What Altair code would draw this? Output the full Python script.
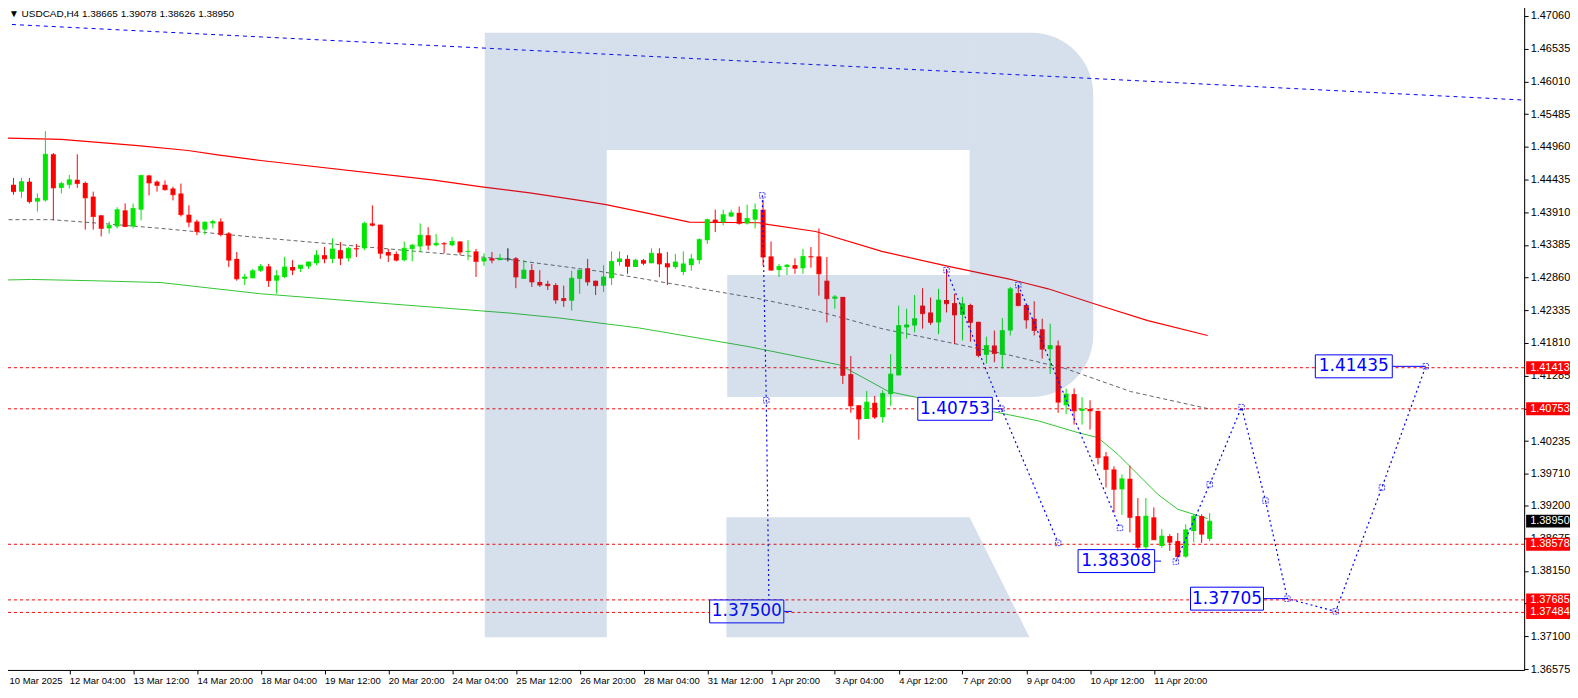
import altair as alt
import pandas as pd

# ---------------- data ----------------
title_text = "▼ USDCAD,H4  1.38665 1.39078 1.38626 1.38950"

x_tick_bars = [0, 8, 16, 24, 32, 40, 48, 56, 64, 72, 80, 88, 96, 104, 112, 120, 128, 136, 144]
x_tick_labels = ["10 Mar 2025", "12 Mar 04:00", "13 Mar 12:00", "14 Mar 20:00", "18 Mar 04:00",
                 "19 Mar 12:00", "20 Mar 20:00", "24 Mar 04:00", "25 Mar 12:00", "26 Mar 20:00",
                 "28 Mar 04:00", "31 Mar 12:00", "1 Apr 20:00", "3 Apr 04:00", "4 Apr 12:00",
                 "7 Apr 20:00", "9 Apr 04:00", "10 Apr 12:00", "11 Apr 20:00"]

y_tick_values = [1.47060, 1.46535, 1.46010, 1.45485, 1.44960, 1.44435, 1.43910, 1.43385, 1.42860,
                 1.42335, 1.41810, 1.41285, 1.40760, 1.40235, 1.39710, 1.39200, 1.38675, 1.38150,
                 1.37625, 1.37100, 1.36575]
y_hidden_labels = ["1.40760", "1.37625"]   # covered by the level badges in the original

opens = [1.4446, 1.4435, 1.4424, 1.4440, 1.4408, 1.4410, 1.4484, 1.4430, 1.4435, 1.4443,
         1.4438, 1.4416, 1.4386, 1.4365, 1.4368, 1.4394, 1.4368, 1.4395, 1.4450, 1.4440,
         1.4435, 1.4429, 1.4421, 1.4387, 1.4376, 1.4363, 1.4373, 1.4376, 1.4357, 1.4316,
         1.4284, 1.4285, 1.4297, 1.4304, 1.4281, 1.4287, 1.4303, 1.4300, 1.4304, 1.4309,
         1.4322, 1.4316, 1.4330, 1.4317, 1.4333, 1.4333, 1.4373, 1.4371, 1.4327, 1.4324,
         1.4314, 1.4332, 1.4336, 1.4354, 1.4338, 1.4341, 1.4338, 1.4344, 1.4327, 1.4328,
         1.4312, 1.4317, 1.4314, 1.4316, 1.4317, 1.4284, 1.4298, 1.4279, 1.4276, 1.4274,
         1.4253, 1.4249, 1.4284, 1.4301, 1.4281, 1.4273, 1.4285, 1.4311, 1.4316, 1.4303,
         1.4314, 1.4309, 1.4325, 1.4309, 1.4303, 1.4295, 1.4306, 1.4314, 1.4346, 1.4379,
         1.4375, 1.4384, 1.4390, 1.4373, 1.4379, 1.4395, 1.4320, 1.4298, 1.4303, 1.4306,
         1.4301, 1.4320, 1.4320, 1.4281, 1.4252, 1.4255, 1.4131, 1.4081, 1.4059, 1.4085,
         1.4062, 1.4099, 1.4129, 1.4206, 1.4209, 1.4241, 1.4230, 1.4214, 1.4250, 1.4245,
         1.4226, 1.4242, 1.4215, 1.4162, 1.4177, 1.4162, 1.4201, 1.4261, 1.4242, 1.4220,
         1.4203, 1.4171, 1.4177, 1.4081, 1.4099, 1.4072, 1.4075, 1.4072, 1.3999, 1.3978,
         1.3946, 1.3963, 1.3903, 1.3853, 1.3901, 1.3855, 1.3871, 1.3863, 1.3838, 1.3879,
         1.3903, 1.38665]
highs = [1.4472, 1.4446, 1.4446, 1.4446, 1.4421, 1.4521, 1.4486, 1.4440, 1.4451, 1.4484,
         1.4440, 1.4424, 1.4386, 1.4376, 1.4399, 1.4405, 1.4405, 1.4451, 1.4451, 1.4442,
         1.4442, 1.4432, 1.4437, 1.4402, 1.4379, 1.4376, 1.4379, 1.4381, 1.4359, 1.4327,
         1.4292, 1.4300, 1.4308, 1.4308, 1.4298, 1.4319, 1.4314, 1.4306, 1.4312, 1.4330,
         1.4335, 1.4349, 1.4343, 1.4335, 1.4340, 1.4376, 1.4402, 1.4371, 1.4332, 1.4328,
         1.4344, 1.4340, 1.4373, 1.4367, 1.4356, 1.4343, 1.4351, 1.4344, 1.4346, 1.4332,
         1.4325, 1.4327, 1.4324, 1.4333, 1.4319, 1.4314, 1.4308, 1.4298, 1.4281, 1.4277,
         1.4273, 1.4297, 1.4298, 1.4316, 1.4281, 1.4306, 1.4328, 1.4328, 1.4322, 1.4316,
         1.4316, 1.4333, 1.4333, 1.4327, 1.4324, 1.4328, 1.4324, 1.4349, 1.4381, 1.4395,
         1.4395, 1.4395, 1.4400, 1.4403, 1.4405, 1.4411, 1.4344, 1.4308, 1.4308, 1.4317,
         1.4332, 1.4335, 1.4365, 1.4319, 1.4258, 1.4255, 1.4160, 1.4081, 1.4104, 1.4096,
         1.4105, 1.4163, 1.4241, 1.4236, 1.4258, 1.4269, 1.4254, 1.4268, 1.4300, 1.4260,
         1.4255, 1.4244, 1.4215, 1.4191, 1.4201, 1.4221, 1.4271, 1.4274, 1.4242, 1.4248,
         1.4220, 1.4212, 1.4185, 1.4108, 1.4108, 1.4094, 1.4089, 1.4072, 1.4006, 1.3983,
         1.3970, 1.3984, 1.3932, 1.3932, 1.3917, 1.3882, 1.3874, 1.3876, 1.3890, 1.3906,
         1.3906, 1.39078]
lows = [1.4430, 1.4419, 1.4414, 1.4405, 1.4392, 1.4408, 1.4378, 1.4421, 1.4429, 1.4430,
        1.4363, 1.4363, 1.4352, 1.4357, 1.4365, 1.4367, 1.4365, 1.4378, 1.4418, 1.4424,
        1.4426, 1.4410, 1.4384, 1.4367, 1.4354, 1.4355, 1.4365, 1.4352, 1.4303, 1.4281,
        1.4274, 1.4285, 1.4295, 1.4271, 1.4260, 1.4285, 1.4290, 1.4295, 1.4300, 1.4306,
        1.4309, 1.4309, 1.4306, 1.4312, 1.4319, 1.4330, 1.4368, 1.4316, 1.4311, 1.4312,
        1.4312, 1.4312, 1.4327, 1.4330, 1.4336, 1.4325, 1.4336, 1.4322, 1.4314, 1.4287,
        1.4305, 1.4309, 1.4314, 1.4312, 1.4269, 1.4284, 1.4271, 1.4271, 1.4266, 1.4244,
        1.4239, 1.4233, 1.4260, 1.4273, 1.4258, 1.4263, 1.4274, 1.4305, 1.4292, 1.4303,
        1.4306, 1.4309, 1.4287, 1.4274, 1.4300, 1.4290, 1.4297, 1.4308, 1.4340, 1.4359,
        1.4370, 1.4383, 1.4371, 1.4371, 1.4365, 1.4305, 1.4297, 1.4287, 1.4290, 1.4292,
        1.4292, 1.4302, 1.4257, 1.4214, 1.4236, 1.4115, 1.4069, 1.4026, 1.4059, 1.4059,
        1.4053, 1.4080, 1.4129, 1.4188, 1.4198, 1.4204, 1.4210, 1.4195, 1.4230, 1.4179,
        1.4185, 1.4183, 1.4158, 1.4148, 1.4150, 1.4140, 1.4193, 1.4240, 1.4204, 1.4193,
        1.4156, 1.4131, 1.4069, 1.4067, 1.4050, 1.4050, 1.4042, 1.3986, 1.3949, 1.3909,
        1.3905, 1.3877, 1.3831, 1.3838, 1.3865, 1.3852, 1.3847, 1.3836, 1.3836, 1.3861,
        1.3860, 1.38626]
closes = [1.4434, 1.4424, 1.4440, 1.4408, 1.4413, 1.4484, 1.4430, 1.4437, 1.4443, 1.4437,
          1.4414, 1.4384, 1.4365, 1.4370, 1.4395, 1.4368, 1.4397, 1.4450, 1.4438, 1.4434,
          1.4427, 1.4419, 1.4387, 1.4375, 1.4360, 1.4375, 1.4376, 1.4355, 1.4314, 1.4284,
          1.4287, 1.4297, 1.4304, 1.4281, 1.4289, 1.4303, 1.4298, 1.4306, 1.4311, 1.4322,
          1.4316, 1.4332, 1.4317, 1.4333, 1.4332, 1.4373, 1.4370, 1.4325, 1.4322, 1.4314,
          1.4333, 1.4338, 1.4354, 1.4338, 1.4341, 1.4340, 1.4344, 1.4327, 1.4328, 1.4312,
          1.4317, 1.4314, 1.4317, 1.4316, 1.4287, 1.4298, 1.4279, 1.4274, 1.4273, 1.4250,
          1.4249, 1.4285, 1.4298, 1.4279, 1.4273, 1.4287, 1.4312, 1.4316, 1.4304, 1.4314,
          1.4309, 1.4325, 1.4308, 1.4303, 1.4311, 1.4308, 1.4316, 1.4347, 1.4379, 1.4375,
          1.4387, 1.4390, 1.4373, 1.4381, 1.4395, 1.4319, 1.4298, 1.4304, 1.4306, 1.4301,
          1.4320, 1.4319, 1.4292, 1.4252, 1.4255, 1.4129, 1.4080, 1.4059, 1.4086, 1.4062,
          1.4100, 1.4131, 1.4209, 1.4210, 1.4220, 1.4228, 1.4214, 1.4250, 1.4244, 1.4226,
          1.4244, 1.4214, 1.4161, 1.4177, 1.4164, 1.4201, 1.4268, 1.4241, 1.4218, 1.4201,
          1.4171, 1.4177, 1.4086, 1.4099, 1.4072, 1.4075, 1.4072, 1.3997, 1.3978, 1.3946,
          1.3963, 1.3901, 1.3853, 1.3903, 1.3865, 1.3871, 1.3861, 1.3838, 1.3881, 1.3903,
          1.3874, 1.38950]
bar_index = list(range(len(opens)))

red_ma_bar = [-0.5, 7, 11.6, 16.6, 22.9, 26.6, 32, 53.5, 59.5, 65.75, 72, 75.3, 80.3, 85.75,
              94.5, 95.75, 101.6, 109.9, 118.25, 125.75, 130.75, 137, 143.25, 150.75]
red_ma_price = [1.4510, 1.4508, 1.4503, 1.4498, 1.4490, 1.4483, 1.4474, 1.4443, 1.4432, 1.4422,
                1.4410, 1.4403, 1.4390, 1.4375, 1.4374, 1.4371, 1.4360, 1.4328, 1.4304, 1.4284,
                1.4268, 1.4242, 1.4217, 1.4193]

green_ma_bar = [-0.5, 3.25, 10.75, 19.5, 32, 47, 63.25, 69.5, 79.5, 93.25, 104.5, 105.75, 110.75,
                114.5, 125.75, 129.5, 134.5, 137, 139.5, 142, 144.5, 147, 149.5, 150.75]
green_ma_price = [1.4282, 1.4283, 1.4281, 1.4278, 1.4260, 1.4245, 1.4229, 1.4221, 1.4205, 1.4175,
                  1.4146, 1.4138, 1.4103, 1.4093, 1.4066, 1.4056, 1.4037, 1.4029, 1.4002, 1.3970,
                  1.3938, 1.3914, 1.3904, 1.3899]

gray_ma_bar = [-0.5, 5.75, 12, 19.5, 32, 63.25, 74.5, 94.5, 101.6, 109.9, 118.25, 125.75, 132.9,
               141.1, 151]
gray_ma_price = [1.4379, 1.4379, 1.4373, 1.4365, 1.4350, 1.4315, 1.4296, 1.4252, 1.4233, 1.4204,
                 1.4182, 1.4162, 1.4140, 1.4103, 1.4075]

trend_bar = [-0.1875, 190.4375]
trend_price = [1.4693, 1.4571]

level_prices = [1.41413, 1.40753, 1.38578, 1.37685, 1.37484]

badge_prices = [1.41413, 1.40753, 1.38950, 1.38578, 1.37685, 1.37484]
badge_texts = ["1.41413", "1.40753", "1.38950", "1.38578", "1.37685", "1.37484"]
badge_fill = ["#ff0000", "#ff0000", "#000000", "#ff0000", "#ff0000", "#ff0000"]

# forecast paths (bar index, price)
path_ids = ["A"] * 3 + ["B"] * 3 + ["C"] * 2 + ["D"] * 8
path_bar = [94.9, 95.4, 95.75,
            118, 124.9, 132,
            127, 139.75,
            146.75, 151, 155, 158, 160.75, 166.8, 172.6, 178.1]
path_price = [1.4418, 1.4089, 1.3750,
              1.4298, 1.40753, 1.3860,
              1.4274, 1.3884,
              1.3830, 1.3954, 1.4078, 1.3928, 1.37705, 1.3750, 1.3949, 1.41435]

label_texts = ["1.37500", "1.40753", "1.38308", "1.37705", "1.41435"]
label_price = [1.37500, 1.40753, 1.38308, 1.37705, 1.41435]
label_left = [88.3, 114.4, 134.5, 148.6, 164.25]
label_right = [97.6, 123.75, 144.1, 157.75, 173.9]
label_tail = [98.6, 124.9, 144.9, 160.75, 178.1]

# watermark "R" pieces (bar index / price)
wm_x0 = [60.1, 75.4, 90.5]
wm_x1 = [75.4, 120.9, 120.9]
wm_p0 = [1.46789, 1.46789, 1.42901]
wm_p1 = [1.37085, 1.44909, 1.40941]
wm_round_x = [120.9, 136.4]
wm_round_p = [1.46789, 1.40941]
wm_leg_bar = [90.4, 120.9, 128.4]
wm_leg_top = [1.39013, 1.39013, 1.37085]
wm_leg_bottom = [1.37085, 1.37085, 1.37085]

# ---------------- styling ----------------
W, H = 1525, 668
UP, DOWN, BLUE = "#00e600", "#ff0000", "#0000ff"
WM = "#1b5395"
AXIS_FONT = "Liberation Sans"

xscale = alt.Scale(domain=[-0.1875, 190.4375], nice=False, zero=False, padding=0)
yscale = alt.Scale(domain=[1.36560, 1.47251], nice=False, zero=False, padding=0)

# first date label is drawn separately so that it is not cut at the left edge
label_expr = ("datum.value < 1 ? '' : [" + ",".join("'%s'" % s for s in x_tick_labels)
              + "][round(datum.value / 8)]")
hidden = "[" + ",".join("'%s'" % s for s in y_hidden_labels) + "]"
y_label_expr = ("indexof(%s, format(datum.value, '.5f')) >= 0 ? '' : format(datum.value, '.5f')" % hidden)

x_axis = alt.Axis(values=x_tick_bars, labelExpr=label_expr, grid=False, tickSize=4, orient="bottom",
                  labelAlign="left", labelPadding=2, labelFont=AXIS_FONT,
                  labelFontSize=9.5, labelColor="black", domainColor="black", tickColor="black",
                  labelOverlap=False, labelFlush=False, title=None)
y_axis = alt.Axis(values=y_tick_values, labelExpr=y_label_expr, orient="right", grid=False, tickSize=4,
                  labelPadding=2, labelFont=AXIS_FONT, labelFontSize=11, labelColor="black",
                  domainColor="black", tickColor="black", labelOverlap=False, labelFlush=False,
                  title=None)


def X(f):
    return alt.X(f, type="quantitative", scale=xscale, axis=x_axis)


def Y(f):
    return alt.Y(f, type="quantitative", scale=yscale, axis=y_axis)


cdf = pd.DataFrame({"i": bar_index, "open": opens, "high": highs, "low": lows, "close": closes})
base = alt.Chart(cdf).transform_calculate(
    dir="datum.close > datum.open ? 'up' : (datum.close < datum.open ? 'down' : 'doji')")
ccolor = alt.Color("dir:N", scale=alt.Scale(domain=["up", "down", "doji"], range=[UP, DOWN, "#000000"]),
                   legend=None)

wicks = base.mark_rule(strokeWidth=1).encode(x=X("i"), y=Y("low"), y2="high", color=ccolor)
bodies = base.mark_bar(size=5).encode(x=X("i"), y=Y("open"), y2="close", color=ccolor)
edges = base.mark_tick(orient="horizontal", size=5, thickness=1).encode(x=X("i"), y=Y("close"), color=ccolor)


def line_layer(bars, prices, color, dash=None, width=1.0):
    df = pd.DataFrame({"i": bars, "p": prices})
    kw = dict(color=color, strokeWidth=width, clip=True)
    if dash:
        kw["strokeDash"] = dash
    return alt.Chart(df).mark_line(**kw).encode(x=X("i"), y=Y("p"))


red_ma = line_layer(red_ma_bar, red_ma_price, "#ff0000", width=1.2)
green_ma = line_layer(green_ma_bar, green_ma_price, "#33c633")
gray_ma = line_layer(gray_ma_bar, gray_ma_price, "#666666", dash=[4, 3])
trend = line_layer(trend_bar, trend_price, BLUE, dash=[4, 4])

levels = alt.Chart(pd.DataFrame({"p": level_prices})).mark_rule(
    color="#ff0000", strokeDash=[3, 3], strokeWidth=1).encode(y=Y("p"))

fdf = pd.DataFrame({"path": path_ids, "k": list(range(len(path_ids))), "i": path_bar, "p": path_price})
forecast = alt.Chart(fdf).mark_line(color=BLUE, strokeDash=[2, 3], strokeWidth=1.2, clip=True).encode(
    x=X("i"), y=Y("p"), detail="path:N", order="k:Q")
markers = alt.Chart(fdf).mark_point(shape="square", size=30, filled=False, color=BLUE,
                                   strokeWidth=1, strokeDash=[2, 1]).encode(x=X("i"), y=Y("p"))

ldf = pd.DataFrame({"text": label_texts, "p": label_price, "x0": label_left, "x1": label_right,
                    "xt": label_tail})
tails = alt.Chart(ldf).mark_rule(color=BLUE, strokeWidth=1).encode(x=X("x1"), x2="xt", y=Y("p"))
boxes = alt.Chart(ldf).mark_rect(fill="white", stroke=BLUE, strokeWidth=1, yOffset=-11.5,
                                 y2Offset=11.5).encode(x=X("x0"), x2="x1", y=Y("p"), y2="p")
box_text = alt.Chart(ldf).transform_calculate(xc="(datum.x0 + datum.x1) / 2").mark_text(
    font="DejaVu Sans", fontSize=17, color=BLUE, align="center", baseline="middle").encode(
    x=X("xc"), y=Y("p"), text="text:N")

wm_rects = alt.Chart(pd.DataFrame({"x0": wm_x0, "x1": wm_x1, "p0": wm_p0, "p1": wm_p1})).mark_rect(
    color=WM, opacity=0.18).encode(x=X("x0"), x2="x1", y=Y("p0"), y2="p1")
wm_round = alt.Chart(pd.DataFrame({"x0": [wm_round_x[0]], "x1": [wm_round_x[1]],
                                   "p0": [wm_round_p[0]], "p1": [wm_round_p[1]]})).mark_rect(
    color=WM, opacity=0.18, cornerRadiusTopRight=100, cornerRadiusBottomRight=100).encode(
    x=X("x0"), x2="x1", y=Y("p0"), y2="p1")
wm_leg = alt.Chart(pd.DataFrame({"i": wm_leg_bar, "t": wm_leg_top, "b": wm_leg_bottom})).mark_area(
    color=WM, opacity=0.18).encode(x=X("i"), y=Y("t"), y2="b")

bdf = pd.DataFrame({"p": badge_prices, "text": badge_texts, "fill": badge_fill})
badge_rects = alt.Chart(bdf).mark_rect(yOffset=-6.5, y2Offset=6.5).encode(
    x=alt.value(W + 2), x2=alt.value(W + 46), y=Y("p"), y2="p", color=alt.Color("fill:N", scale=None))
badge_text = alt.Chart(bdf).mark_text(color="white", align="left", baseline="middle",
                                      font=AXIS_FONT, fontSize=11).encode(
    x=alt.value(W + 6), y=Y("p"), text="text:N")

title = alt.Chart(pd.DataFrame({"t": [title_text]})).mark_text(
    align="left", baseline="middle", font=AXIS_FONT, fontSize=10, color="black").encode(
    x=alt.value(5), y=alt.value(10), text="t:N")

first_date = alt.Chart(pd.DataFrame({"t": [x_tick_labels[0]]})).mark_text(
    align="left", baseline="top", font=AXIS_FONT, fontSize=9.5, color="black").encode(
    x=alt.value(5.5), y=alt.value(H + 6), text="t:N")

chart = alt.layer(
    levels, trend, gray_ma, red_ma, green_ma,
    wicks, bodies, edges,
    forecast, markers, tails, boxes, box_text,
    wm_rects, wm_round, wm_leg,
    badge_rects, badge_text, title, first_date,
).properties(
    width=W, height=H,
    padding={"left": -5, "top": -5, "right": 0, "bottom": 0},
).configure_view(stroke="black", strokeWidth=1).configure(background="white")

chart.save("out.html", embed_options={"renderer": "svg", "actions": False})
